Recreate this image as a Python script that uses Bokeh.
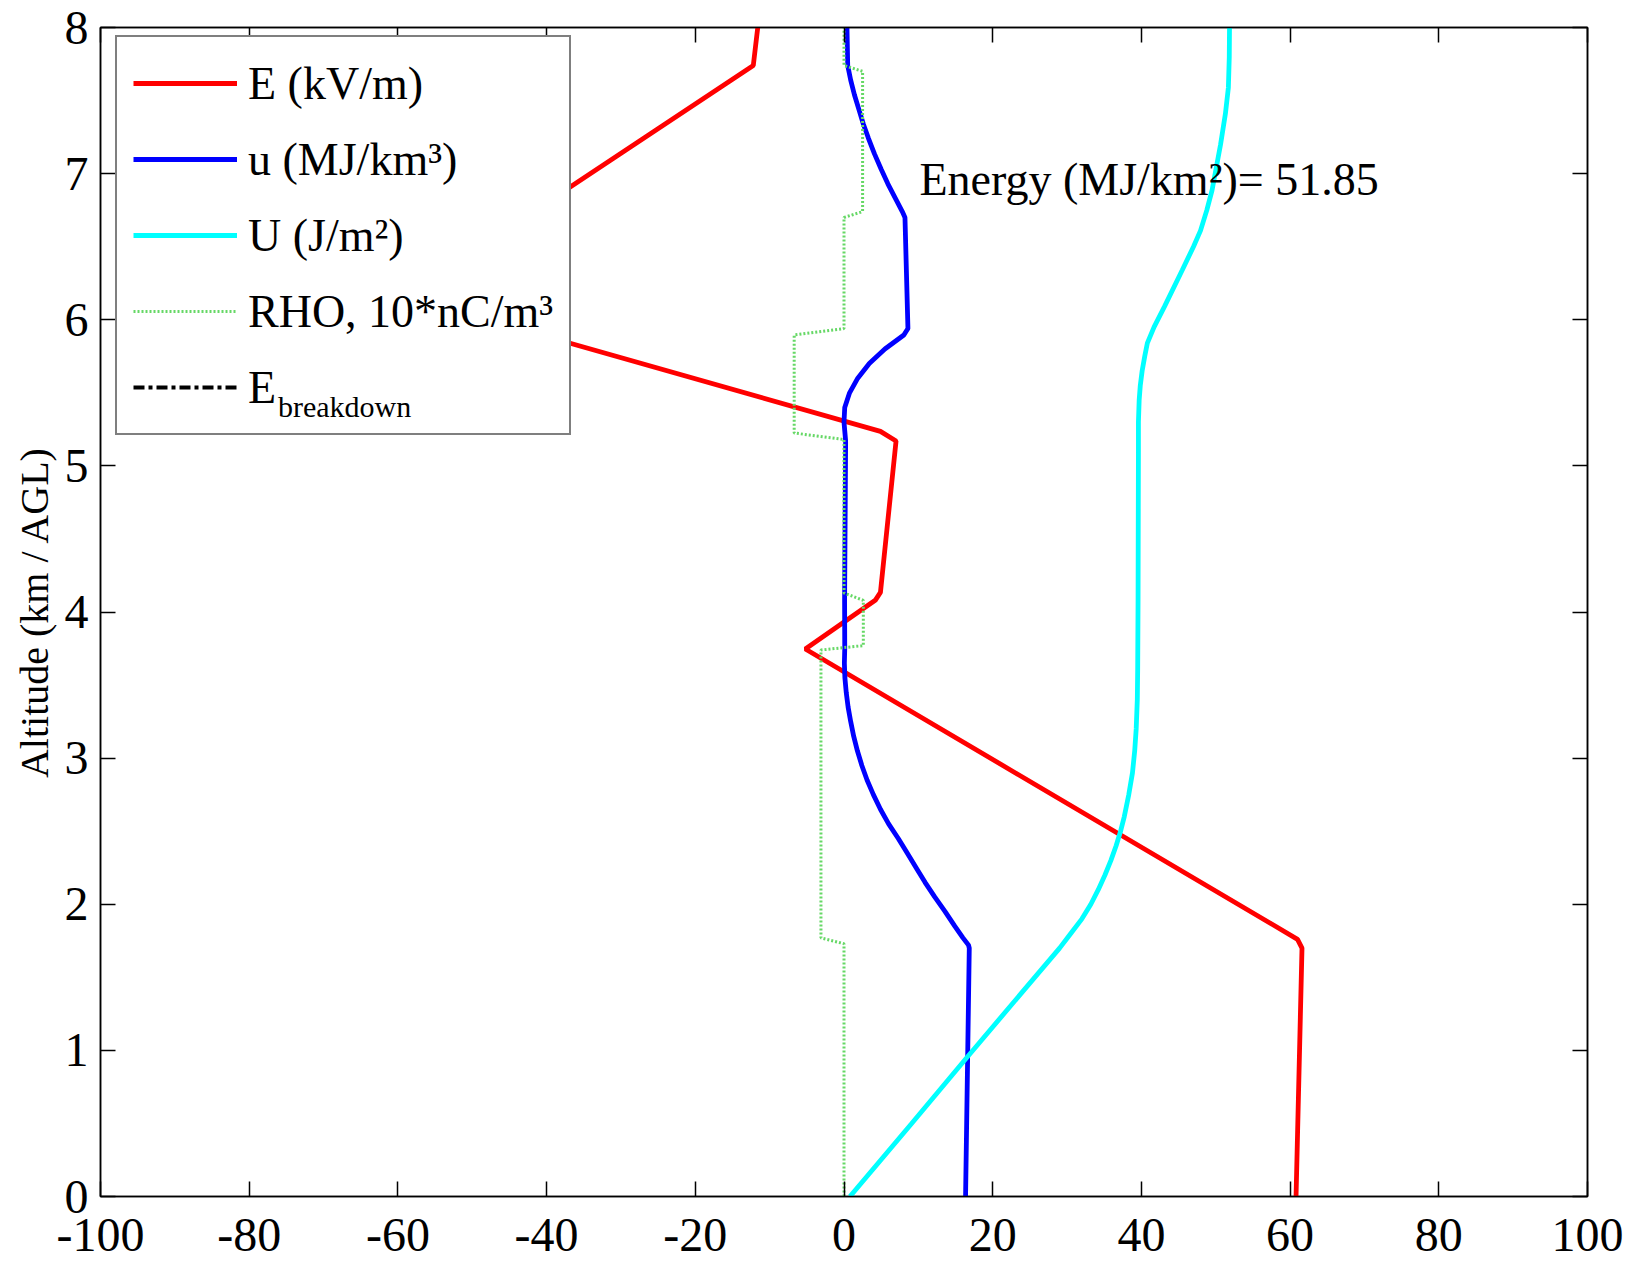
from bokeh.plotting import figure
from bokeh.models import (Range1d, LinearAxis, FixedTicker, Legend, LegendItem,
                          Label, CustomJSTickFormatter)
from bokeh.embed import file_html
from bokeh.resources import INLINE

NAN = float("nan")

# ---- vertical profiles (altitude in km AGL) ----
# electric field E (kV/m)
e_alt = [0.0, 1.70, 1.76, 3.747, 4.08, 4.134, 5.17, 5.236, 5.92, 6.72, 7.74, 8.0]
e_field = [60.8, 61.6, 61.0, -5.2, 4.2, 4.9, 7.0, 4.9, -42.4, -42.4, -12.2, -11.6]

# energy density u (MJ/km^3)
u_alt = [0.0, 1.70, 1.72, 1.77, 1.85, 1.95, 2.05, 2.15, 2.25, 2.35, 2.45, 2.55,
         2.65, 2.75, 2.85, 2.95, 3.05, 3.15, 3.25, 3.35, 3.45, 3.55, 3.65,
         3.75, 4.08, 5.17, 5.24, 5.30, 5.40, 5.50, 5.60, 5.70, 5.80, 5.896, 5.94,
         6.70, 6.74, 6.93, 7.03, 7.135, 7.24, 7.34, 7.44, 7.54, 7.64, 7.74, 8.0]
u_val = [16.35, 16.85, 16.75, 16.0, 14.9, 13.6, 12.2, 10.9, 9.7, 8.5, 7.3, 6.0,
         4.9, 3.95, 3.1, 2.4, 1.8, 1.3, 0.9, 0.55, 0.3, 0.12, 0.05,
         0.1, 0.08, 0.22, 0.1, 0.0, 0.1, 0.75, 1.85, 3.4, 5.5, 8.05, 8.6,
         8.2, 7.84, 5.9, 5.0, 4.1, 3.3, 2.6, 2.0, 1.4, 0.9, 0.5, 0.4]

# cumulative energy U (J/m^2)
energy_total = 51.85
U_alt = [0.0, 0.5, 0.95, 1.4, 1.70, 1.80, 1.90, 2.00, 2.10, 2.20, 2.30, 2.40,
         2.50, 2.60, 2.75, 2.90, 3.05, 3.20, 3.40, 3.61, 4.07, 5.09, 5.30, 5.45,
         5.55, 5.65, 5.75, 5.84, 5.95, 6.09, 6.34, 6.50, 6.61, 6.75, 6.885, 7.05,
         7.20, 7.41, 7.59, 7.80, 8.0]
U_val = [0.8, 9.1, 16.5, 24.0, 29.0, 30.5, 32.0, 33.2, 34.2, 35.1, 35.9, 36.6,
         37.2, 37.7, 38.3, 38.8, 39.1, 39.3, 39.45, 39.5, 39.55, 39.6, 39.6, 39.7,
         39.85, 40.1, 40.45, 40.8, 41.7, 43.1, 45.5, 47.0, 47.95, 48.8, 49.5, 50.1,
         50.65, 51.3, 51.7, 51.82, energy_total]

# charge density RHO (10*nC/m^3)
rho_alt = [0.0, 1.73, 1.77, 3.74, 3.77, 4.08, 4.13, 5.18, 5.225, 5.896, 5.94,
           6.70, 6.74, 7.70, 7.74, 8.0]
rho_val = [0.0, 0.0, -3.1, -3.1, 2.6, 2.6, 0.0, 0.0, -6.7, -6.7, 0.0,
           0.0, 2.5, 2.5, 0.0, 0.0]

# breakdown field: off the plotted scale, so no visible segment
eb_alt = [0.0, 8.0]
eb_val = [NAN, NAN]

x_ticks = [-100, -80, -60, -40, -20, 0, 20, 40, 60, 80, 100]
x_tick_labels = ["-100", "-80", "-60", "-40", "-20", "0", "20", "40", "60", "80", "100"]
y_ticks = [0, 1, 2, 3, 4, 5, 6, 7, 8]

FONT = "Liberation Serif"
FS = "46px"
TICK_FS = "48px"

p = figure(width=1625, height=1264, output_backend="svg", toolbar_location=None,
           x_range=Range1d(-100, 100), y_range=Range1d(0, 8),
           min_border_left=100, min_border_right=38, min_border_top=27,
           min_border_bottom=68)
p.xgrid.visible = False
p.ygrid.visible = False
p.background_fill_color = "white"
p.border_fill_color = "white"
p.outline_line_color = "black"
p.outline_line_width = 1.5

r_E = p.line(e_field, e_alt, line_color="#ff0000", line_width=4.8)
r_u = p.line(u_val, u_alt, line_color="#0000ff", line_width=4.8)
r_U = p.line(U_val, U_alt, line_color="#00ffff", line_width=4.8)
r_rho = p.line(rho_val, rho_alt, line_color="#66d866", line_width=3, line_dash="2 2")
r_eb = p.line(eb_val, eb_alt, line_color="black", line_width=4, line_dash="11 4 4 4")
# invisible stand-in used only to carry the subscript text of the last legend entry
r_sub = p.line(eb_val, eb_alt, line_alpha=0)

# main axes
xa = p.xaxis[0]
ya = p.yaxis[0]
xa.ticker = FixedTicker(ticks=x_ticks)
xa.major_label_overrides = dict(zip(x_ticks, x_tick_labels))
ya.ticker = FixedTicker(ticks=y_ticks)
for ax in (xa, ya):
    ax.major_tick_in = 15
    ax.major_tick_out = 0
    ax.minor_tick_line_color = None
    ax.major_tick_line_color = "black"
    ax.major_tick_line_width = 1.5
    ax.axis_line_color = "black"
    ax.axis_line_width = 1.5
    ax.major_label_text_font = FONT
    ax.major_label_text_font_size = TICK_FS
    ax.major_label_text_color = "black"
xa.major_label_standoff = 22
ya.major_label_standoff = 12
ya.axis_label = "Altitude (km / AGL)"
ya.axis_label_text_font = FONT
ya.axis_label_text_font_size = "40px"
ya.axis_label_text_font_style = "normal"
ya.axis_label_text_color = "black"
ya.axis_label_standoff = 5

# mirrored tick marks on top and right edges
blank = CustomJSTickFormatter(code="return ''")
top = LinearAxis(ticker=FixedTicker(ticks=x_ticks), formatter=blank)
right = LinearAxis(ticker=FixedTicker(ticks=y_ticks), formatter=blank)
for ax in (top, right):
    ax.major_tick_in = 15
    ax.major_tick_out = 0
    ax.minor_tick_line_color = None
    ax.major_tick_line_color = "black"
    ax.major_tick_line_width = 1.5
    ax.axis_line_color = "black"
    ax.axis_line_width = 1.5
    ax.major_label_standoff = 0
p.add_layout(top, "above")
p.add_layout(right, "right")

legend = Legend(
    items=[
        LegendItem(label="E (kV/m)", renderers=[r_E]),
        LegendItem(label="u (MJ/km³)", renderers=[r_u]),
        LegendItem(label="U (J/m²)", renderers=[r_U]),
        LegendItem(label="RHO, 10*nC/m³", renderers=[r_rho]),
        LegendItem(label="E", renderers=[r_eb]),
    ],
    location=(15, 761), orientation="vertical",
    label_text_font=FONT, label_text_font_size=FS, label_text_color="black",
    glyph_width=104, glyph_height=60, label_height=60, label_standoff=11,
    spacing=16, padding=16, margin=0,
    border_line_color="black", border_line_width=2,
    background_fill_color="white", background_fill_alpha=1.0,
)
p.add_layout(legend)

# subscript "breakdown" drawn as a borderless one-line legend over the main one
sub_legend = Legend(
    items=[LegendItem(label="breakdown", renderers=[r_sub])],
    location=(178, 772), orientation="vertical",
    label_text_font=FONT, label_text_font_size="30px", label_text_color="black",
    glyph_width=0, glyph_height=30, label_height=30, label_standoff=0,
    spacing=0, padding=0, margin=0,
    border_line_color=None, background_fill_alpha=0.0,
)
p.add_layout(sub_legend)

p.add_layout(Label(x=10.15, y=6.962, text=f"Energy (MJ/km²)= {energy_total:.2f}",
                   text_font=FONT, text_font_size=FS, text_color="black",
                   text_baseline="alphabetic"))

open("out.html", "w").write(file_html(p, INLINE))
